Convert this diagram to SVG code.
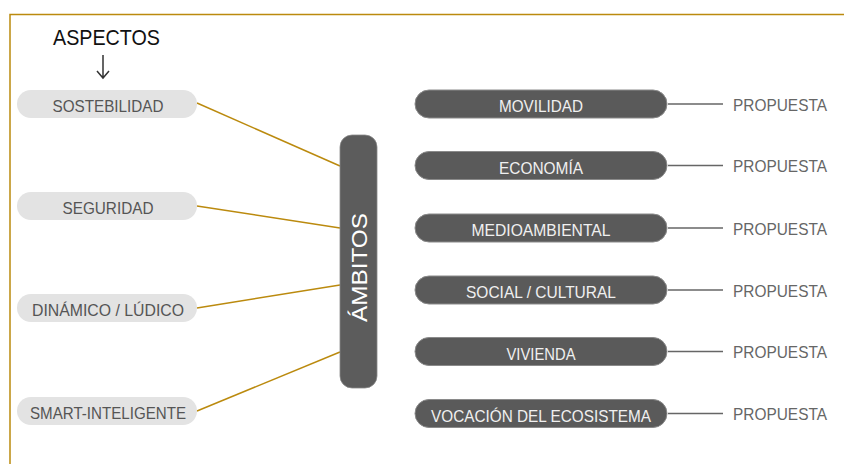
<svg xmlns="http://www.w3.org/2000/svg" width="844" height="464" viewBox="0 0 844 464">
<style>
.lp{fill:#e3e3e3}
.rp{fill:#5a5a5a;stroke:#8a8a8a;stroke-width:1}
.lt{font-family:"Liberation Sans",Arial,sans-serif;font-size:17px;fill:#555;text-anchor:middle}
.rt{font-family:"Liberation Sans",Arial,sans-serif;font-size:17px;fill:#f0f0f0;text-anchor:middle}
.pt{font-family:"Liberation Sans",Arial,sans-serif;font-size:17px;fill:#666}
.gold{stroke:#bb8a0e;stroke-width:1.5;fill:none}
.gray{stroke:#666;stroke-width:1.5;fill:none}
</style>
<rect width="844" height="464" fill="#fff"/>
<path class="gold" d="M10,464 V14.5 H844" stroke-width="2"/>
<g id="title">
<text x="53" y="45" font-family="'Liberation Sans',Arial,sans-serif" font-size="22" fill="#111" textLength="107" lengthAdjust="spacingAndGlyphs">ASPECTOS</text>
<path d="M103,55 V78 M97,71 L103,78 L109,71" stroke="#333" stroke-width="1.5" fill="none"/>
</g>
<g id="connectors">
<line class="gold" x1="197" y1="103" x2="340" y2="166"/>
<line class="gold" x1="197" y1="206" x2="340" y2="228"/>
<line class="gold" x1="197" y1="308" x2="340" y2="285"/>
<line class="gold" x1="197" y1="411" x2="340" y2="352"/>
<line class="gray" x1="668" y1="104" x2="723" y2="104"/>
<line class="gray" x1="668" y1="165.5" x2="723" y2="165.5"/>
<line class="gray" x1="668" y1="228" x2="723" y2="228"/>
<line class="gray" x1="668" y1="290" x2="723" y2="290"/>
<line class="gray" x1="668" y1="351.5" x2="723" y2="351.5"/>
<line class="gray" x1="668" y1="413.5" x2="723" y2="413.5"/>
</g>
<g id="sostebilidad"><rect class="lp" x="17" y="90" width="180" height="28" rx="14"/><text class="lt" x="108" y="111.5" textLength="111" lengthAdjust="spacingAndGlyphs">SOSTEBILIDAD</text></g>
<g id="seguridad"><rect class="lp" x="17" y="192" width="180" height="28" rx="14"/><text class="lt" x="108" y="213.5" textLength="91" lengthAdjust="spacingAndGlyphs">SEGURIDAD</text></g>
<g id="dinamico"><rect class="lp" x="17" y="294" width="180" height="28" rx="14"/><text class="lt" x="108" y="315.5" textLength="152" lengthAdjust="spacingAndGlyphs">DINÁMICO / LÚDICO</text></g>
<g id="smart"><rect class="lp" x="17" y="397" width="180" height="28" rx="14"/><text class="lt" x="108" y="418.5" textLength="156" lengthAdjust="spacingAndGlyphs">SMART-INTELIGENTE</text></g>
<g id="ambitos"><rect x="340" y="135" width="37" height="253" rx="12" fill="#5c5c5c" stroke="#888" stroke-width="0.8"/><text transform="translate(367,267.5) rotate(-90)" text-anchor="middle" font-family="'Liberation Sans',Arial,sans-serif" font-size="22" fill="#fff" textLength="109" lengthAdjust="spacingAndGlyphs">ÁMBITOS</text></g>
<g id="movilidad"><rect class="rp" x="415" y="90" width="252" height="28" rx="14"/><text class="rt" x="541" y="112" textLength="84" lengthAdjust="spacingAndGlyphs">MOVILIDAD</text></g>
<g id="economia"><rect class="rp" x="415" y="151.5" width="252" height="28" rx="14"/><text class="rt" x="541" y="173.5" textLength="84" lengthAdjust="spacingAndGlyphs">ECONOMÍA</text></g>
<g id="medioambiental"><rect class="rp" x="415" y="214" width="252" height="28" rx="14"/><text class="rt" x="541" y="236" textLength="139" lengthAdjust="spacingAndGlyphs">MEDIOAMBIENTAL</text></g>
<g id="social"><rect class="rp" x="415" y="276" width="252" height="28" rx="14"/><text class="rt" x="541" y="298" textLength="150" lengthAdjust="spacingAndGlyphs">SOCIAL / CULTURAL</text></g>
<g id="vivienda"><rect class="rp" x="415" y="337.5" width="252" height="28" rx="14"/><text class="rt" x="541" y="359.5" textLength="69" lengthAdjust="spacingAndGlyphs">VIVIENDA</text></g>
<g id="vocacion"><rect class="rp" x="415" y="399.5" width="252" height="28" rx="14"/><text class="rt" x="541" y="421.5" textLength="220" lengthAdjust="spacingAndGlyphs">VOCACIÓN DEL ECOSISTEMA</text></g>
<g id="propuesta1"><text class="pt" x="733" y="110.5" textLength="94" lengthAdjust="spacingAndGlyphs">PROPUESTA</text></g>
<g id="propuesta2"><text class="pt" x="733" y="172" textLength="94" lengthAdjust="spacingAndGlyphs">PROPUESTA</text></g>
<g id="propuesta3"><text class="pt" x="733" y="234.5" textLength="94" lengthAdjust="spacingAndGlyphs">PROPUESTA</text></g>
<g id="propuesta4"><text class="pt" x="733" y="296.5" textLength="94" lengthAdjust="spacingAndGlyphs">PROPUESTA</text></g>
<g id="propuesta5"><text class="pt" x="733" y="358" textLength="94" lengthAdjust="spacingAndGlyphs">PROPUESTA</text></g>
<g id="propuesta6"><text class="pt" x="733" y="420" textLength="94" lengthAdjust="spacingAndGlyphs">PROPUESTA</text></g>
</svg>
